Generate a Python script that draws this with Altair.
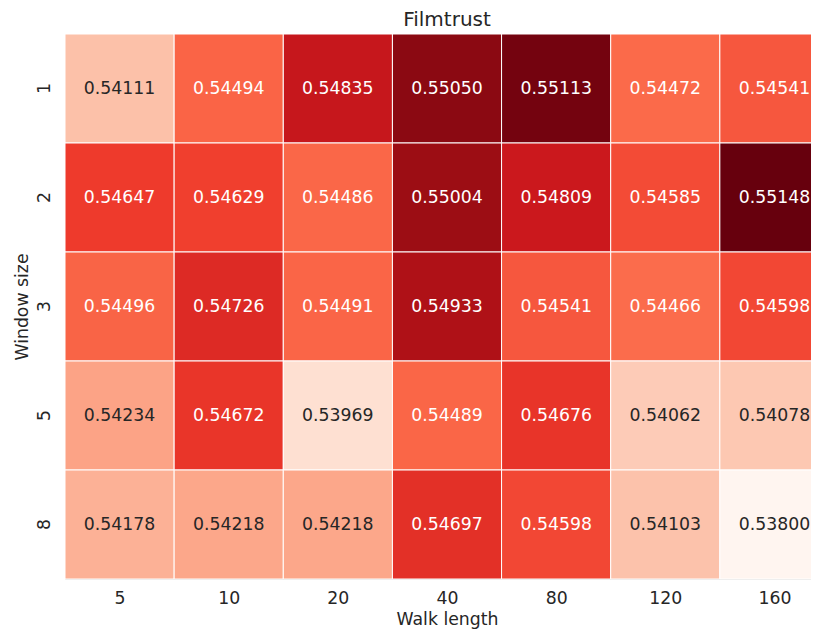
import altair as alt
import pandas as pd

walk_lengths = ["5", "10", "20", "40", "80", "120", "160"]
window_sizes = ["1", "2", "3", "5", "8"]
row_1 = [0.54111, 0.54494, 0.54835, 0.55050, 0.55113, 0.54472, 0.54541]
row_2 = [0.54647, 0.54629, 0.54486, 0.55004, 0.54809, 0.54585, 0.55148]
row_3 = [0.54496, 0.54726, 0.54491, 0.54933, 0.54541, 0.54466, 0.54598]
row_5 = [0.54234, 0.54672, 0.53969, 0.54489, 0.54676, 0.54062, 0.54078]
row_8 = [0.54178, 0.54218, 0.54218, 0.54697, 0.54598, 0.54103, 0.53800]
rows = [row_1, row_2, row_3, row_5, row_8]

records = []
for ws, vals in zip(window_sizes, rows):
    for i, (wl, v) in enumerate(zip(walk_lengths, vals)):
        records.append({"window": ws, "walk": wl, "xi": i, "xi2": i + 1,
                        "xm": i + 0.5, "value": v})
df = pd.DataFrame(records)

vmin = min(min(r) for r in rows)
vmax = max(max(r) for r in rows)
reds = ['#fff5f0', '#fee0d2', '#fcbba1', '#fc9272', '#fb6a4a',
        '#ef3b2c', '#cb181d', '#a50f15', '#67000d']
dom = [vmin + (vmax - vmin) * i / 8 for i in range(9)]

VIEW_W = 746
FULL_W = 764
n = len(walk_lengths)
x_scale = alt.Scale(domain=[0, n * VIEW_W / FULL_W], nice=False, zero=False)
y_scale = alt.Scale(paddingInner=0, paddingOuter=0)

label_expr = "[" + ",".join("'%s'" % w for w in walk_lengths) + "][floor(datum.value)]"

x = alt.X("xi:Q", title="Walk length", scale=x_scale,
          axis=alt.Axis(values=[i + 0.5 for i in range(n)], labelExpr=label_expr,
                        labelAngle=0, domain=False, ticks=False, grid=False,
                        labelFlush=False, labelOverlap=False, labelPadding=10,
                        titlePadding=4, titleX=FULL_W / 2,
                        labelFontSize=17.3, titleFontSize=17.3,
                        labelColor="#262626", titleColor="#262626",
                        labelFontWeight="normal", titleFontWeight="normal"))
y = alt.Y("window:N", sort=window_sizes, title="Window size", scale=y_scale,
          axis=alt.Axis(labelAngle=-90, domain=False, ticks=False, labelPadding=21,
                        titlePadding=4, labelFontSize=17.3, titleFontSize=17.3,
                        labelColor="#262626", titleColor="#262626",
                        labelBaseline="middle", labelAlign="center",
                        labelFontWeight="normal", titleFontWeight="normal"))

rect = alt.Chart(df).mark_rect(stroke="white", strokeWidth=1).encode(
    x=x, x2="xi2:Q", y=y,
    color=alt.Color("value:Q", scale=alt.Scale(domain=dom, range=reds, interpolate="rgb"),
                    legend=None),
)
text = alt.Chart(df).mark_text(fontSize=17.3).encode(
    x=alt.X("xm:Q", scale=x_scale),
    y=alt.Y("window:N", sort=window_sizes, scale=y_scale),
    text=alt.Text("value:Q", format=".5f"),
    color=alt.condition(alt.datum.value > 0.5435, alt.value("white"), alt.value("#262626")),
)

chart = (rect + text).properties(
    width=VIEW_W, height=545,
    title=alt.TitleParams("Filmtrust", fontSize=20, fontWeight="normal", color="#262626",
                          offset=4, dx=(FULL_W - VIEW_W) / 2),
    autosize=alt.AutoSizeParams(type="none"),
    padding={"left": 57, "top": 26, "right": 0, "bottom": 50},
).configure_view(stroke=None).configure(font="DejaVu Sans")

chart.save("out.html", embed_options={"renderer": "svg", "actions": False})
